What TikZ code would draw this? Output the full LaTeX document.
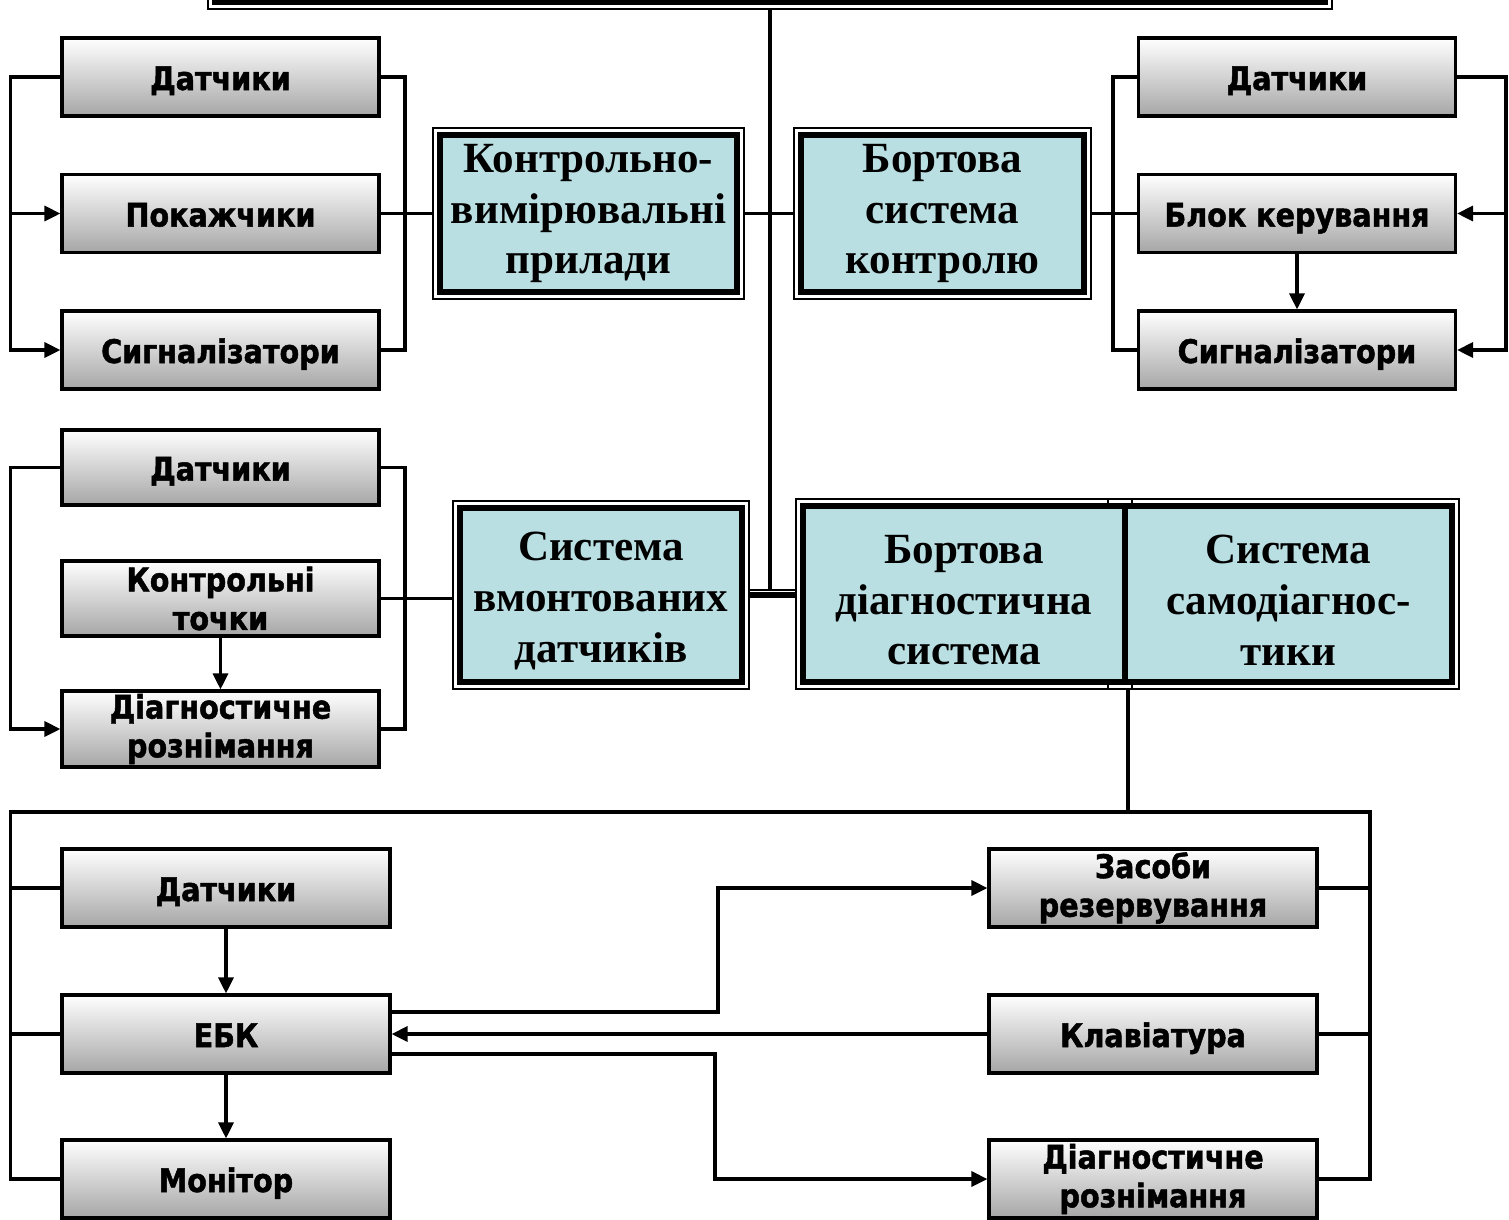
\documentclass[tikz,border=0pt]{standalone}
\usepackage{fontspec}
\newfontfamily\boxfont[FakeStretch=0.88, BoldFeatures={FakeBold=1.5}]{DejaVu Sans}
\newfontfamily\tealfont{Liberation Serif}
\usepackage{tikz}
\usetikzlibrary{arrows.meta,positioning,calc,fit,backgrounds}
\usepackage{xcolor}
\definecolor{brTeal}{HTML}{BADFE2}
\definecolor{brBrown}{HTML}{6B4F12}
\definecolor{brGrey}{HTML}{A6A6A6}
\tikzset{
  conn/.style={line width=1.8pt, draw=black},
  arr/.style={conn, -{Triangle[length=3.2mm,width=3mm]}},
  gtwo/.style={draw=black, line width=1.8pt, top color=white, bottom color=brGrey, minimum width=6.34cm, minimum height=1.56cm, inner sep=0pt, align=center, font=\boxfont\bfseries\fontsize{18.5}{22}\selectfont},
  gbox/.style={gtwo, text height=18pt, text depth=3.2pt},
  gtwow/.style={gtwo, minimum width=6.56cm},
  gboxw/.style={gbox, minimum width=6.56cm},
  teal/.style={draw=black, line width=3.4pt, fill=brTeal, inner sep=0pt, align=center, font=\tealfont\bfseries\fontsize{24.5}{29}\selectfont},
  frame/.style={draw=black, line width=1pt, inner sep=0.8mm}
}
\begin{document}
\begin{tikzpicture}[x=1cm,y=1cm]
  \useasboundingbox (0,0) rectangle (30.18,-24.38);
  \coordinate (lbus) at (0.21,0);
  \coordinate (mbus) at (8.10,0);
  \coordinate (rbusl) at (22.26,0);
  \coordinate (rbusr) at (30.12,0);
  \coordinate (bbus) at (0,-16.24);
  \coordinate (bbr) at (27.40,0);
  \coordinate (jn) at (15.44,-11.80);
  \coordinate (ez) at (14.36,-20.24);
  \coordinate (ed) at (14.30,-21.08);
  % top block (cut off)
  \node[teal, fill=brBrown, minimum width=22.2cm, minimum height=2.04cm] (top) at (15.40,0.98) {};
  % centre blocks
  \node[teal, minimum width=5.94cm, minimum height=3.14cm] (tkvp) at (11.77,-4.27) {Контрольно-\\вимірювальні\\прилади};
  \node[teal, minimum width=5.66cm, minimum height=3.14cm] (tbsk) at (18.85,-4.27) {Бортова\\система\\контролю};
  \node[teal, minimum width=5.64cm, minimum height=3.48cm] (tsvd) at (12.02,-11.90) {\rule{0pt}{23pt}Система\\вмонтованих\\датчиків};
  \node[teal, minimum width=6.54cm, minimum height=3.52cm] (tsd) at (25.77,-11.88) {\rule{0pt}{23pt}Система\\самодіагнос-\\тики};
  \node[teal, minimum width=6.44cm, minimum height=3.52cm] (tbds) at (19.28,-11.88) {\rule{0pt}{23pt}Бортова\\діагностична\\система};
  \begin{scope}[on background layer]
    \node[frame, fit=(top)] (topf) {};
    \node[frame, fit=(tkvp)] (tkvpf) {};
    \node[frame, fit=(tbsk)] (tbskf) {};
    \node[frame, fit=(tsvd)] (tsvdf) {};
    \node[frame, fit={(tsd) ($(tsd.west)+(-0.2,0)$)}] (tsdf) {};
    \node[frame, fit=(tbds)] (tbdsf) {};
  \end{scope}
  % left upper group
  \node[gbox] (ld1) at (4.41,-1.54) {Датчики};
  \node[gbox] (lpok) at (4.41,-4.27) {Покажчики};
  \node[gbox] (lsig) at (4.41,-7.00) {Сигналізатори};
  % right upper group
  \node[gbox] (rd1) at (25.94,-1.54) {Датчики};
  \node[gbox] (rbk) at (25.94,-4.27) {Блок керування};
  \node[gbox] (rsig) at (25.94,-7.00) {Сигналізатори};
  % left lower group
  \node[gbox, minimum height=1.5cm] (ld2) at (4.41,-9.35) {Датчики};
  \node[gtwo, minimum height=1.5cm] (lkt) at (4.41,-11.97) {Контрольні\\точки};
  \node[gtwo, minimum height=1.52cm] (ldr) at (4.41,-14.58) {Діагностичне\\рознімання};
  % bottom group
  \node[gboxw] (bd) at (4.52,-17.76) {Датчики};
  \node[gboxw] (bebk) at (4.52,-20.68) {ЕБК};
  \node[gboxw] (bmon) at (4.52,-23.58) {Монітор};
  \node[gtwow] (bzas) at (23.06,-17.76) {Засоби\\резервування};
  \node[gboxw] (bkl) at (23.06,-20.68) {Клавіатура};
  \node[gtwow] (bdr) at (23.06,-23.58) {Діагностичне\\рознімання};
  % trunk
  \draw[conn] (topf.south) -- (topf.south |- jn);
  \draw[line width=1pt] (tsvdf.east |- jn) -- (tbdsf.west |- jn);
  \draw[line width=3.4pt] (tsvdf.east) -- (tsvdf.east -| tbdsf.west);
  \draw[conn] (tkvpf.east) -- (tbskf.west);
  % left upper
  \draw[arr] (ld1.west) -- (ld1.west -| lbus) |- (lsig.west);
  \draw[arr] (lpok.west -| lbus) -- (lpok.west);
  \draw[conn] (ld1.east) -- (ld1.east -| mbus) |- (lsig.east);
  \draw[conn] (lpok.east) -- (tkvpf.west);
  % right upper
  \draw[conn] (rd1.west) -- (rd1.west -| rbusl) |- (rsig.west);
  \draw[conn] (tbskf.east) -- (rbk.west);
  \draw[arr] (rd1.east) -- (rd1.east -| rbusr) |- (rsig.east);
  \draw[arr] (rbk.east -| rbusr) -- (rbk.east);
  \draw[arr] (rbk) -- (rsig);
  % left lower
  \draw[arr] (ld2.west) -- (ld2.west -| lbus) |- (ldr.west);
  \draw[conn] (ld2.east) -- (ld2.east -| mbus) |- (ldr.east);
  \draw[conn] (lkt.east) -- (lkt.east -| tsvdf.west);
  \draw[arr] (lkt) -- (ldr);
  % bottom
  \draw[conn] (tbds.east |- tbdsf.south) -- (tbds.east |- bbus);
  \draw[conn] (bd.west) -| (lbus |- bbus) -- (bbr |- bbus) |- (bzas.east);
  \draw[conn] (bmon.west) -- (bmon.west -| lbus) -- (bd.west -| lbus);
  \draw[conn] (bebk.west) -- (bebk.west -| lbus);
  \draw[conn] (bdr.east) -- (bdr.east -| bbr) -- (bzas.east -| bbr);
  \draw[conn] (bkl.east) -- (bkl.east -| bbr);
  \draw[arr] (bd) -- (bebk);
  \draw[arr] (bebk) -- (bmon);
  \draw[arr] (bebk.east |- ez) -- (ez) |- (bzas.west);
  \draw[arr] (bkl.west) -- (bebk.east);
  \draw[arr] (bebk.east |- ed) -- (ed) |- (bdr.west);
\end{tikzpicture}
\end{document}
